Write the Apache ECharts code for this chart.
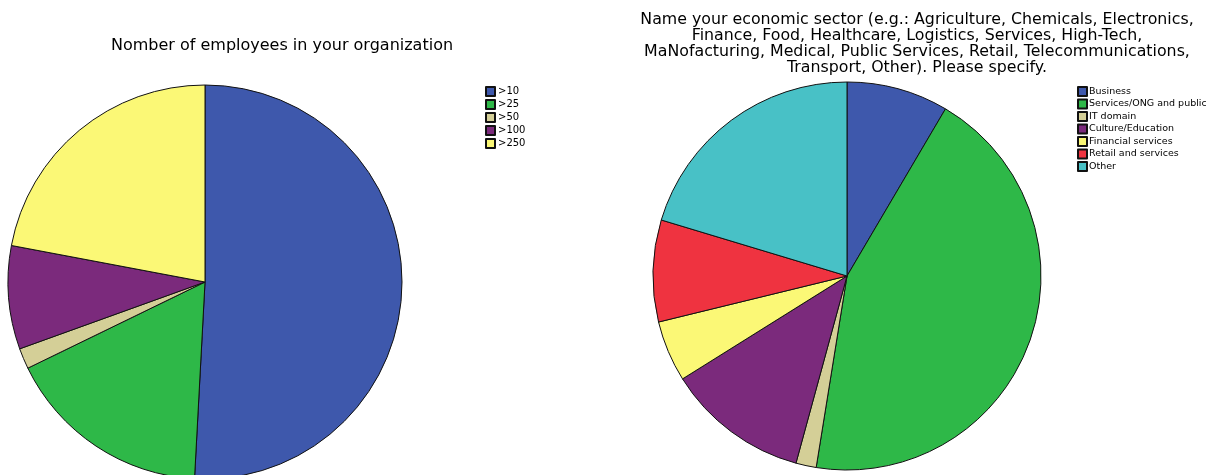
<!DOCTYPE html>
<html>
<head>
<meta charset="utf-8">
<script src="https://cdn.jsdelivr.net/npm/echarts@6/dist/echarts.min.js"></script>
<style>
  html, body { margin: 0; padding: 0; background: #fff; }
  #chart { width: 1206px; height: 475px; }
</style>
</head>
<body>
<div id="chart"></div>
<script>
// left pie: number of employees
var sizeNames = ['>10', '>25', '>50', '>100', '>250'];
var sizeCounts = [30, 10, 1, 5, 13];
var sizeColors = ['#3e58ac', '#2eb848', '#d4cf97', '#7b2a7c', '#fbf876'];

// right pie: economic sector
var sectorNames = ['Business', 'Services/ONG and public', 'IT domain', 'Culture/Education',
                   'Financial services', 'Retail and services', 'Other'];
var sectorCounts = [5, 26, 1, 7, 3, 5, 12];
var sectorColors = ['#3e58ac', '#2eb848', '#d4cf97', '#7b2a7c', '#fbf876', '#ef3340', '#48c1c6'];

var leftTitle = 'Nomber of employees in your organization';
var rightTitle = 'Name your economic sector (e.g.: Agriculture, Chemicals, Electronics,\n' +
  'Finance, Food, Healthcare, Logistics, Services, High-Tech,\n' +
  'MaNofacturing, Medical, Public Services, Retail, Telecommunications,\n' +
  'Transport, Other). Please specify.';

function pieData(names, counts, colors) {
  var out = [];
  for (var i = 0; i < names.length; i++) {
    out.push({ name: names[i], value: counts[i], itemStyle: { color: colors[i] } });
  }
  return out;
}

var chart = echarts.init(document.getElementById('chart'));
var font = 'DejaVu Sans, Verdana, sans-serif';

chart.setOption({
  animation: false,
  title: [
    {
      text: leftTitle,
      left: 277, top: 33, textAlign: 'center',
      textStyle: { fontFamily: font, fontSize: 16, fontWeight: 'normal', color: '#000' }
    },
    {
      text: rightTitle,
      left: 912, top: 7, textAlign: 'center',
      textStyle: { fontFamily: font, fontSize: 15.8, fontWeight: 'normal', color: '#000', lineHeight: 16 }
    }
  ],
  legend: [
    {
      orient: 'vertical', left: 480, top: 81,
      itemWidth: 9, itemHeight: 9, itemGap: 2, icon: 'rect',
      data: sizeNames,
      textStyle: { fontFamily: 'DejaVu Sans, Tahoma, sans-serif', fontSize: 10, color: '#000', padding: [0, 0, 0, -2] }
    },
    {
      orient: 'vertical', left: 1072, top: 81,
      itemWidth: 9, itemHeight: 9, itemGap: 1.5, icon: 'rect',
      data: sectorNames,
      textStyle: { fontFamily: 'DejaVu Sans, Tahoma, sans-serif', fontSize: 9.5, color: '#000', padding: [0, 0, 0, -3] }
    }
  ],
  series: [
    {
      type: 'pie',
      center: [205, 282],
      radius: 197,
      startAngle: 90,
      label: { show: false },
      labelLine: { show: false },
      emphasis: { disabled: true },
      itemStyle: { borderColor: '#111', borderWidth: 1 },
      data: pieData(sizeNames, sizeCounts, sizeColors)
    },
    {
      type: 'pie',
      center: [847, 276],
      radius: 194,
      startAngle: 90,
      label: { show: false },
      labelLine: { show: false },
      emphasis: { disabled: true },
      itemStyle: { borderColor: '#111', borderWidth: 1 },
      data: pieData(sectorNames, sectorCounts, sectorColors)
    }
  ]
});
</script>
</body>
</html>
